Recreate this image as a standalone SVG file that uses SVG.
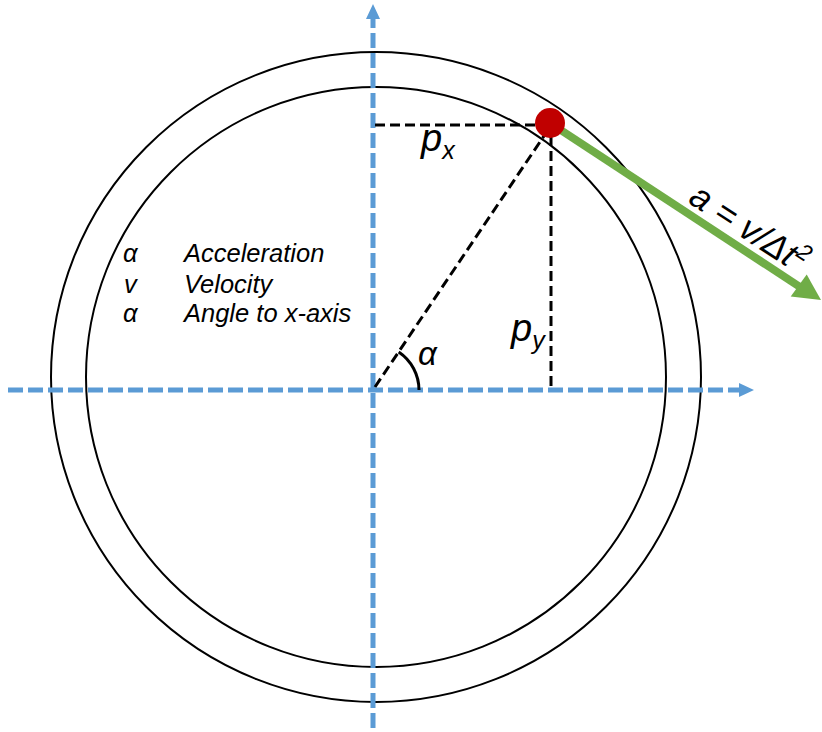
<svg xmlns="http://www.w3.org/2000/svg" width="822" height="732" viewBox="0 0 822 732">
<style>
.circ{fill:none;stroke:#000;stroke-width:2}
.axis{fill:none;stroke:#5B9BD5;stroke-width:5;stroke-dasharray:15 5}
.dash{fill:none;stroke:#000;stroke-width:3;stroke-dasharray:10 5}
.it{font-family:"Liberation Sans",Arial,sans-serif;font-style:italic;fill:#000}
.lg{font-size:25.5px}
</style>
<rect width="822" height="732" fill="#fff"/>
<g id="outer-circle"><circle class="circ" cx="376" cy="377" r="325"/></g>
<g id="inner-circle"><circle class="circ" cx="376" cy="377" r="290"/></g>
<g id="connectors">
<line class="axis" x1="8" y1="390" x2="740" y2="390"/>
<polygon points="739,383 754,390 739,397" fill="#5B9BD5"/>
<line class="axis" x1="373" y1="728" x2="373" y2="18"/>
<polygon points="366,19 373,4 380,19" fill="#5B9BD5"/>
<line class="dash" x1="375" y1="125" x2="540" y2="125"/>
<line class="dash" x1="551" y1="136" x2="551" y2="390"/>
<line class="dash" x1="375" y1="387" x2="548" y2="130"/>
<path d="M419,390 A46,46 0 0 0 398.7,351.9" fill="none" stroke="#000" stroke-width="3"/>
<line x1="550" y1="123" x2="800" y2="287" stroke="#70AD47" stroke-width="8"/>
<polygon points="821,300 790.7,296.5 806.7,274.5" fill="#70AD47"/>
</g>
<g id="particle"><circle cx="550" cy="123" r="15" fill="#C00000"/></g>
<g id="labels">
<text class="it" x="421" y="151" font-size="38">p<tspan font-size="25" dy="8">x</tspan></text>
<text class="it" x="511" y="341" font-size="38">p<tspan font-size="25" dy="8">y</tspan></text>
<text class="it" x="418" y="365" font-size="33">α</text>
<text class="it" transform="translate(687,202) rotate(33)" font-size="35">a = v/Δt<tspan font-size="23" dy="-14">2</tspan></text>
</g>
<g id="legend">
<text class="it lg" x="123" y="262">α</text>
<text class="it lg" x="184" y="262">Acceleration</text>
<text class="it lg" x="124" y="293">v</text>
<text class="it lg" x="184" y="293">Velocity</text>
<text class="it lg" x="123" y="322">α</text>
<text class="it lg" x="184" y="322">Angle to x-axis</text>
</g>
</svg>
